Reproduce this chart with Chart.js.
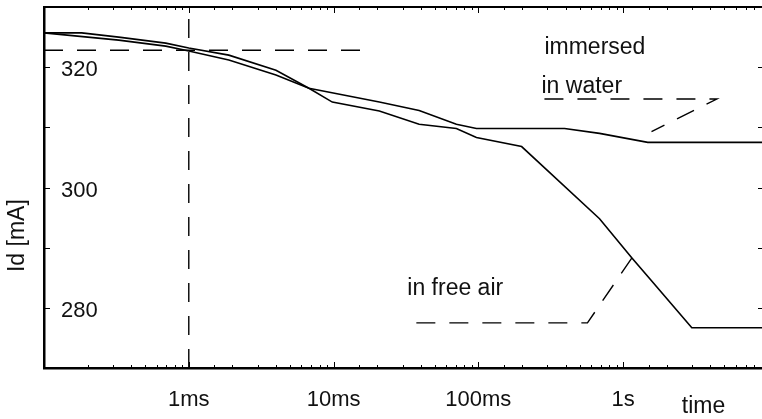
<!DOCTYPE html>
<html>
<head>
<meta charset="utf-8">
<script src="https://cdn.jsdelivr.net/npm/chart.js@4.4.1/dist/chart.umd.min.js"></script>
<style>
  html, body { margin: 0; padding: 0; background: #fff; }
  #wrap { width: 762px; height: 419px; }
</style>
</head>
<body>
<div id="wrap"><canvas id="grafica"></canvas></div>
<script>
// tiempos en segundos, corriente Id en mA
const waterTime = [0.0001, 0.000328, 0.000693, 0.001, 0.00189, 0.004, 0.00676, 0.0207, 0.039, 0.0705, 0.097, 0.394, 0.687, 1.48, 9.1];
const waterId   = [325.7, 324.5, 323.5, 322.7, 321.2, 318.7, 316.5, 314.2, 312.8, 310.5, 309.8, 309.8, 309.0, 307.5, 307.5];

const airTime = [0.0001, 0.000182, 0.000328, 0.000693, 0.001, 0.00189, 0.004, 0.00676, 0.0098, 0.0207, 0.039, 0.0705, 0.097, 0.199, 0.687, 1.15, 1.57, 2.98, 9.1];
const airId   = [325.7, 325.7, 325.0, 324.0, 323.2, 322.0, 319.5, 316.5, 314.2, 312.7, 310.5, 309.8, 308.3, 306.8, 294.8, 288.3, 284.5, 276.7, 276.7];

// lineas discontinuas de referencia
const refTime = [0.0001, 0.0163];
const refId   = [322.8, 322.8];
const markTime = [0.001, 0.001];
const markId   = [270, 330];
const waterLeadTime = [0.286, 4.44, 1.57];
const waterLeadId   = [314.7, 314.7, 309.3];
const airLeadTime = [0.0373, 0.567, 1.15];
const airLeadId   = [277.5, 277.5, 288.3];

// etiquetas de ejes
const xTickLabels = { '-3': '1ms', '-2': '10ms', '-1': '100ms', '0': '1s' };
const yTickLabels = [280, 300, 320];

const pts = (xs, ys) => xs.map((x, i) => ({ x: x, y: ys[i] }));

const solid = (label, xs, ys) => ({
  label, data: pts(xs, ys), borderColor: '#000', borderWidth: 1.6,
  pointRadius: 0, showLine: true, tension: 0, fill: false
});
const dashed = (label, xs, ys) => ({
  label, data: pts(xs, ys), borderColor: '#000', borderWidth: 1.4, borderDash: [19, 14],
  pointRadius: 0, showLine: true, tension: 0, fill: false
});

const FONT = '"Liberation Sans", Arial, sans-serif';

const marcas = {
  id: 'marcas',
  afterDraw(chart) {
    const ctx = chart.ctx, a = chart.chartArea;
    const xs = chart.scales.x, ys = chart.scales.y;
    ctx.save();
    ctx.strokeStyle = '#000';
    ctx.lineWidth = 1;
    // ticks hacia dentro, eje x (abajo y arriba)
    xs.ticks.forEach(t => {
      const px = Math.round(xs.getPixelForValue(t.value)) + 0.5;
      if (px <= a.left + 1 || px >= a.right - 1) return;
      const lg = Math.log10(t.value);
      const major = Math.abs(lg - Math.round(lg)) < 1e-6;
      const len = major ? 6 : 3;
      ctx.beginPath();
      ctx.moveTo(px, a.bottom); ctx.lineTo(px, a.bottom - len);
      ctx.moveTo(px, a.top); ctx.lineTo(px, a.top + len);
      ctx.stroke();
    });
    // ticks eje y (izquierda y derecha)
    ys.ticks.forEach(t => {
      if (t.value <= ys.min || t.value >= ys.max) return;
      const py = Math.round(ys.getPixelForValue(t.value)) + 0.5;
      ctx.beginPath();
      ctx.moveTo(a.left, py); ctx.lineTo(a.left + 6, py);
      ctx.moveTo(a.right, py); ctx.lineTo(a.right - 4, py);
      ctx.stroke();
    });
    // borde superior
    ctx.lineWidth = 2;
    ctx.beginPath();
    ctx.moveTo(a.left, a.top); ctx.lineTo(a.right, a.top);
    ctx.stroke();

    // textos
    ctx.fillStyle = '#111';
    ctx.font = '23px ' + FONT;
    ctx.textBaseline = 'middle';
    ctx.textAlign = 'left';
    ctx.fillText('immersed', xs.getPixelForValue(0.286), ys.getPixelForValue(323.3));
    ctx.fillText('in water', xs.getPixelForValue(0.273), ys.getPixelForValue(316.7));
    ctx.fillText('in free air', xs.getPixelForValue(0.0323), ys.getPixelForValue(283.2));
    ctx.fillText('time', xs.getPixelForValue(2.54), a.bottom + 39);

    ctx.translate(a.left - 26, ys.getPixelForValue(292));
    ctx.rotate(-Math.PI / 2);
    ctx.textAlign = 'center';
    ctx.fillText('Id [mA]', 0, 0);
    ctx.restore();
  }
};

new Chart(document.querySelector('#grafica'), {
  type: 'scatter',
  data: {
    datasets: [
      solid('immersed in water', waterTime, waterId),
      solid('in free air', airTime, airId),
      dashed('ref', refTime, refId),
      dashed('1ms', markTime, markId),
      dashed('water leader', waterLeadTime, waterLeadId),
      dashed('air leader', airLeadTime, airLeadId)
    ]
  },
  options: {
    responsive: true,
    maintainAspectRatio: false,
    animation: false,
    layout: { padding: { top: 7, right: 0, left: 0, bottom: 0 } },
    plugins: { legend: { display: false }, tooltip: { enabled: false } },
    scales: {
      x: {
        type: 'logarithmic',
        min: 0.0001,
        max: 9.1,
        grid: { display: false },
        border: { display: true, color: '#000', width: 2.5 },
        ticks: {
          autoSkip: false,
          maxRotation: 0,
          padding: 11,
          color: '#111',
          font: { family: FONT, size: 22 },
          callback: (v) => {
            const lg = Math.log10(v);
            if (Math.abs(lg - Math.round(lg)) > 1e-6) return '';
            return xTickLabels[String(Math.round(lg))] || '';
          }
        },
        afterFit: (s) => { s.height = 51; s.paddingLeft = 0; s.paddingRight = 0; }
      },
      y: {
        min: 270,
        max: 330,
        grid: { display: false },
        border: { display: true, color: '#000', width: 2.5 },
        ticks: {
          stepSize: 10,
          mirror: true,
          padding: 17,
          labelOffset: 3,
          color: '#111',
          font: { family: FONT, size: 22 },
          callback: (v) => yTickLabels.includes(v) ? String(v) : ''
        },
        afterFit: (s) => { s.width = 44; s.paddingTop = 0; s.paddingBottom = 0; }
      }
    }
  },
  plugins: [marcas]
});
</script>
</body>
</html>
